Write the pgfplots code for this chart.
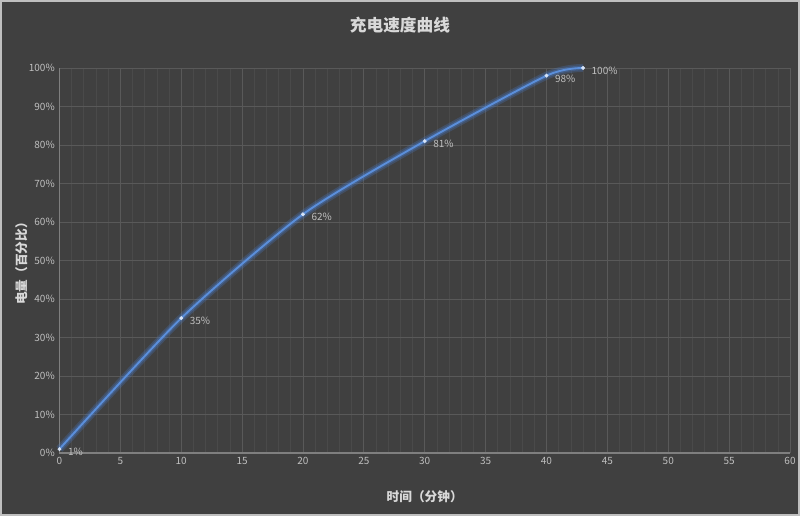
\documentclass[border=0pt]{standalone}
\usepackage{pgfplots}
\pgfplotsset{compat=1.18}
\usepackage{pgfplotstable}
\usepackage{fontspec}
\setmainfont{Noto Sans CJK SC}
\definecolor{bg}{HTML}{404040}
\definecolor{frame}{HTML}{BFBFBF}
\definecolor{majgrid}{HTML}{595959}
\definecolor{mingrid}{HTML}{4A4A4A}
\definecolor{axline}{HTML}{7F7F7F}
\definecolor{ticktext}{HTML}{BFBFBF}
\definecolor{titletext}{HTML}{D9D9D9}
\definecolor{curve}{HTML}{5B8FDB}
\definecolor{glow}{HTML}{4A7FD0}

\pgfplotstableread{
t soc
0 1
10 35
20 62
30 81
40 98
43 100
}\charge

\begin{document}
\begin{tikzpicture}
\fill[bg] (0pt,0pt) rectangle (600pt,387pt);
\draw[frame,line width=1.2pt] (0.6pt,0.6pt) rectangle (599.4pt,386.4pt);
\begin{axis}[
    at={(44.6pt,47.25pt)}, anchor=south west,
    scale only axis,
    width=548pt, height=288.75pt,
    xmin=0, xmax=60, ymin=0, ymax=100,
    xtick distance=5, ytick distance=10,
    minor x tick num=4,
    grid=both,
    major grid style={majgrid, line width=0.6pt},
    minor grid style={mingrid, line width=0.5pt},
    axis line style={draw=none},
    tick style={draw=none},
    yticklabel={\pgfmathprintnumber{\tick}\%},
    ticklabel style={font=\fontsize{7.5}{9}\selectfont, text=ticktext},
    /pgf/number format/assume math mode=true,
    xlabel={时间（分钟）},
    ylabel={电量（百分比）},
    label style={font=\bfseries\fontsize{9.5}{11}\selectfont, text=titletext},
    xlabel style={yshift=-12pt},
    ylabel style={yshift=-6pt},
    clip=false,
]
\draw[axline, line width=1pt] (axis cs:0,100) -- (axis cs:0,0) -- (axis cs:60,0);
\addplot[glow, line width=6pt, opacity=0.25, smooth, tension=0.4] table[x=t,y=soc] {\charge};
\addplot[glow, line width=3.5pt, opacity=0.35, smooth, tension=0.4] table[x=t,y=soc] {\charge};
\addplot[curve, line width=1.4pt, smooth, tension=0.4,
    mark=*, mark size=1.3pt, mark options={fill=white!75!curve, draw=white!75!curve, line width=0.3pt},
    nodes near coords={\pgfmathprintnumber{\pgfplotspointmeta}\%},
    point meta=y,
    every node near coord/.style={anchor=west, xshift=3pt, yshift=-2pt, font=\fontsize{7.5}{9}\selectfont, text=ticktext},
] table[x=t,y=soc] {\charge};
\end{axis}
\node[font=\bfseries\fontsize{12.5}{14}\selectfont, text=titletext] at (300pt,368pt) {充电速度曲线};
\end{tikzpicture}
\end{document}
